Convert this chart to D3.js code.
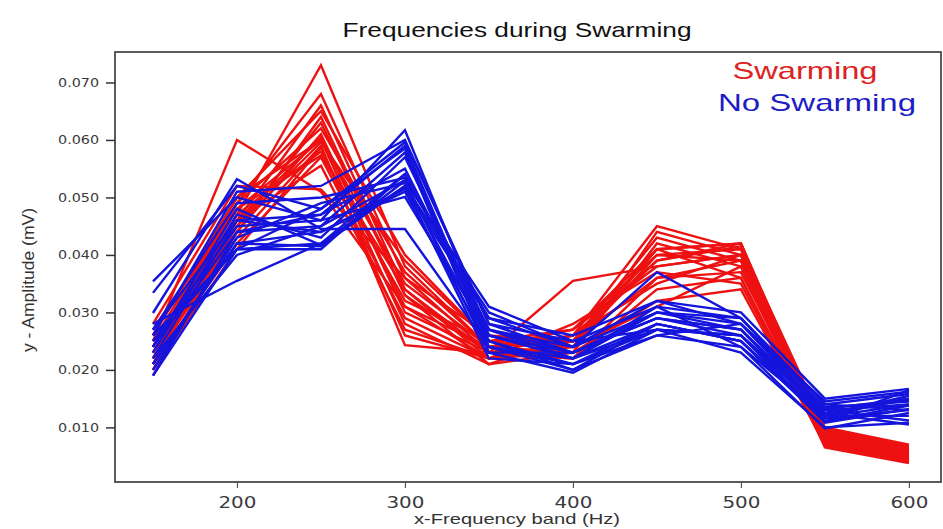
<!DOCTYPE html>
<html lang="en">
<head>
<meta charset="UTF-8">
<title>Frequencies during Swarming</title>
<script src="https://d3js.org/d3.v7.min.js"></script>
<style>
    body { margin: 0; background: #fff; font-family: "Liberation Sans", Arial, sans-serif; }
    .tick-y text { font-family: "DejaVu Sans", Verdana, sans-serif; font-size: 12px; fill: #3a3a3a; }
    .tick-x text { font-family: "DejaVu Sans", Verdana, sans-serif; font-size: 16px; fill: #3a3a3a; }
</style>
</head>
<body>
<svg id="chart"></svg>
<script>
    // frequency bands (Hz)
    const bands = [150, 200, 250, 300, 350, 400, 450, 500, 550, 600];
    const yTicks = [0.010, 0.020, 0.030, 0.040, 0.050, 0.060, 0.070];
    const xTicks = [200, 300, 400, 500, 600];

    // Swarming recordings (mV)
    const swarming = [
        [0.022, 0.047, 0.073, 0.038, 0.024, 0.025, 0.041, 0.042, 0.0080, 0.0050],
        [0.024, 0.049, 0.068, 0.036, 0.023, 0.026, 0.045, 0.041, 0.0090, 0.0060],
        [0.021, 0.046, 0.066, 0.034, 0.022, 0.024, 0.040, 0.039, 0.0070, 0.0045],
        [0.026, 0.050, 0.065, 0.040, 0.025, 0.027, 0.038, 0.040, 0.0095, 0.0065],
        [0.023, 0.045, 0.063, 0.033, 0.021, 0.023, 0.042, 0.038, 0.0075, 0.0040],
        [0.025, 0.060, 0.051, 0.031, 0.022, 0.025, 0.036, 0.037, 0.0085, 0.0055],
        [0.020, 0.044, 0.061, 0.030, 0.023, 0.022, 0.034, 0.036, 0.0068, 0.0042],
        [0.027, 0.048, 0.060, 0.035, 0.024, 0.026, 0.039, 0.0415, 0.0100, 0.0070],
        [0.022, 0.043, 0.059, 0.0243, 0.023, 0.0355, 0.038, 0.040, 0.0078, 0.0048],
        [0.024, 0.047, 0.058, 0.032, 0.025, 0.024, 0.041, 0.042, 0.0088, 0.0058],
        [0.021, 0.042, 0.057, 0.029, 0.022, 0.028, 0.037, 0.035, 0.0072, 0.0044],
        [0.028, 0.052, 0.0514, 0.036, 0.026, 0.025, 0.043, 0.039, 0.0092, 0.0062],
        [0.023, 0.046, 0.0555, 0.027, 0.022, 0.023, 0.032, 0.034, 0.0070, 0.0050],
        [0.025, 0.049, 0.062, 0.037, 0.024, 0.027, 0.040, 0.041, 0.0082, 0.0052],
        [0.022, 0.044, 0.064, 0.033, 0.023, 0.024, 0.031, 0.038, 0.0065, 0.0038],
        [0.026, 0.050, 0.060, 0.028, 0.021, 0.026, 0.035, 0.040, 0.0098, 0.0068],
        [0.020, 0.041, 0.0587, 0.026, 0.022, 0.025, 0.039, 0.042, 0.0076, 0.0046],
        [0.024, 0.048, 0.0573, 0.034, 0.023, 0.022, 0.036, 0.039, 0.0086, 0.0056],
        [0.021, 0.045, 0.0596, 0.039, 0.025, 0.027, 0.041, 0.036, 0.0074, 0.0064],
        [0.023, 0.046, 0.0604, 0.031, 0.024, 0.023, 0.044, 0.040, 0.0080, 0.0042]
    ];

    // No swarming recordings (mV)
    const noSwarming = [
        [0.0354, 0.050, 0.046, 0.0617, 0.026, 0.022, 0.030, 0.027, 0.012, 0.015],
        [0.0334, 0.052, 0.048, 0.0596, 0.028, 0.023, 0.029, 0.026, 0.013, 0.014],
        [0.0299, 0.0532, 0.0445, 0.0445, 0.024, 0.021, 0.028, 0.025, 0.011, 0.0165],
        [0.028, 0.0355, 0.042, 0.052, 0.030, 0.024, 0.037, 0.029, 0.014, 0.013],
        [0.026, 0.041, 0.042, 0.0541, 0.027, 0.022, 0.031, 0.024, 0.012, 0.0155],
        [0.024, 0.048, 0.0417, 0.0529, 0.031, 0.025, 0.027, 0.023, 0.010, 0.0108],
        [0.022, 0.046, 0.047, 0.059, 0.025, 0.020, 0.026, 0.028, 0.0135, 0.0145],
        [0.019, 0.044, 0.045, 0.0578, 0.023, 0.0195, 0.027, 0.026, 0.0115, 0.013],
        [0.027, 0.049, 0.050, 0.0534, 0.029, 0.026, 0.032, 0.030, 0.015, 0.0167],
        [0.025, 0.045, 0.046, 0.0501, 0.026, 0.023, 0.029, 0.027, 0.012, 0.012],
        [0.021, 0.042, 0.044, 0.051, 0.024, 0.022, 0.028, 0.025, 0.011, 0.0138],
        [0.023, 0.047, 0.043, 0.057, 0.027, 0.024, 0.030, 0.028, 0.0125, 0.0148],
        [0.020, 0.043, 0.049, 0.0525, 0.025, 0.021, 0.026, 0.024, 0.0098, 0.0125],
        [0.026, 0.051, 0.052, 0.060, 0.028, 0.025, 0.031, 0.029, 0.014, 0.0158],
        [0.022, 0.040, 0.045, 0.053, 0.023, 0.023, 0.029, 0.027, 0.013, 0.0112],
        [0.024, 0.044, 0.047, 0.055, 0.026, 0.022, 0.027, 0.026, 0.0108, 0.0132],
        [0.019, 0.041, 0.048, 0.0585, 0.024, 0.020, 0.028, 0.025, 0.0118, 0.014],
        [0.027, 0.046, 0.044, 0.0515, 0.029, 0.024, 0.032, 0.028, 0.0145, 0.0162],
        [0.021, 0.042, 0.0415, 0.052, 0.022, 0.021, 0.027, 0.026, 0.0125, 0.0105],
        [0.025, 0.041, 0.041, 0.054, 0.027, 0.023, 0.030, 0.029, 0.0132, 0.015]
    ];

    const width = 943, height = 529;
    const box = { left: 115, right: 941, top: 52, bottom: 482 };

    const svg = d3.select("#chart").attr("width", width).attr("height", height);

    const x = d3.scaleLinear().domain([127.4, 618.5]).range([box.left, 940]);
    const y = d3.scaleLinear().domain([0.0005, 0.0753]).range([box.bottom, box.top]);

    // frame
    svg.append("rect")
        .attr("x", box.left).attr("y", box.top)
        .attr("width", box.right - box.left).attr("height", box.bottom - box.top)
        .attr("fill", "none").attr("stroke", "#333").attr("stroke-width", 1.6);

    // axes
    svg.append("g")
        .attr("class", "tick-y")
        .attr("transform", `translate(${box.left},0)`)
        .call(d3.axisLeft(y).tickValues(yTicks).tickFormat(d3.format(".3f")).tickSize(9).tickPadding(7))
        .call(g => g.select(".domain").remove())
        .call(g => g.selectAll("line").attr("stroke", "#333").attr("stroke-width", 1.5))
        .call(g => g.selectAll("text").attr("textLength", 41).attr("lengthAdjust", "spacingAndGlyphs"));

    svg.append("g")
        .attr("class", "tick-x")
        .attr("transform", `translate(0,${box.bottom})`)
        .call(d3.axisBottom(x).tickValues(xTicks).tickSize(6).tickPadding(9))
        .call(g => g.select(".domain").remove())
        .call(g => g.selectAll("line").attr("stroke", "#555").attr("stroke-width", 1.2))
        .call(g => g.selectAll("text").attr("textLength", 38).attr("lengthAdjust", "spacingAndGlyphs"));

    // lines
    const line = d3.line()
        .x((d, i) => x(bands[i]))
        .y(d => y(d));

    const plot = svg.append("g");

    plot.selectAll(".red")
        .data(swarming)
        .join("path")
        .attr("class", "red")
        .attr("d", line)
        .attr("fill", "none")
        .attr("stroke", "#ee1111")
        .attr("stroke-width", 2.4)
        .attr("stroke-linejoin", "miter");

    plot.selectAll(".blue")
        .data(noSwarming)
        .join("path")
        .attr("class", "blue")
        .attr("d", line)
        .attr("fill", "none")
        .attr("stroke", "#1414dc")
        .attr("stroke-width", 2.4)
        .attr("stroke-linejoin", "miter");

    // title and labels
    svg.append("text")
        .attr("x", 517).attr("y", 37)
        .attr("text-anchor", "middle")
        .attr("font-size", 21).attr("fill", "#111")
        .attr("textLength", 349).attr("lengthAdjust", "spacingAndGlyphs")
        .text("Frequencies during Swarming");

    svg.append("text")
        .attr("transform", "translate(34,280) rotate(-90)")
        .attr("text-anchor", "middle")
        .attr("font-size", 16).attr("fill", "#333")
        .attr("textLength", 144).attr("lengthAdjust", "spacingAndGlyphs")
        .text("y - Amplitude (mV)");

    svg.append("text")
        .attr("x", 517).attr("y", 524)
        .attr("text-anchor", "middle")
        .attr("font-size", 15).attr("fill", "#333")
        .attr("textLength", 206).attr("lengthAdjust", "spacingAndGlyphs")
        .text("x-Frequency band (Hz)");

    // legend
    svg.append("text")
        .attr("x", 805).attr("y", 79)
        .attr("text-anchor", "middle")
        .attr("font-size", 24).attr("fill", "#dd2222")
        .attr("textLength", 145).attr("lengthAdjust", "spacingAndGlyphs")
        .text("Swarming");

    svg.append("text")
        .attr("x", 817).attr("y", 111)
        .attr("text-anchor", "middle")
        .attr("font-size", 24).attr("fill", "#1d1dc4")
        .attr("textLength", 198).attr("lengthAdjust", "spacingAndGlyphs")
        .text("No Swarming");
</script>
</body>
</html>
